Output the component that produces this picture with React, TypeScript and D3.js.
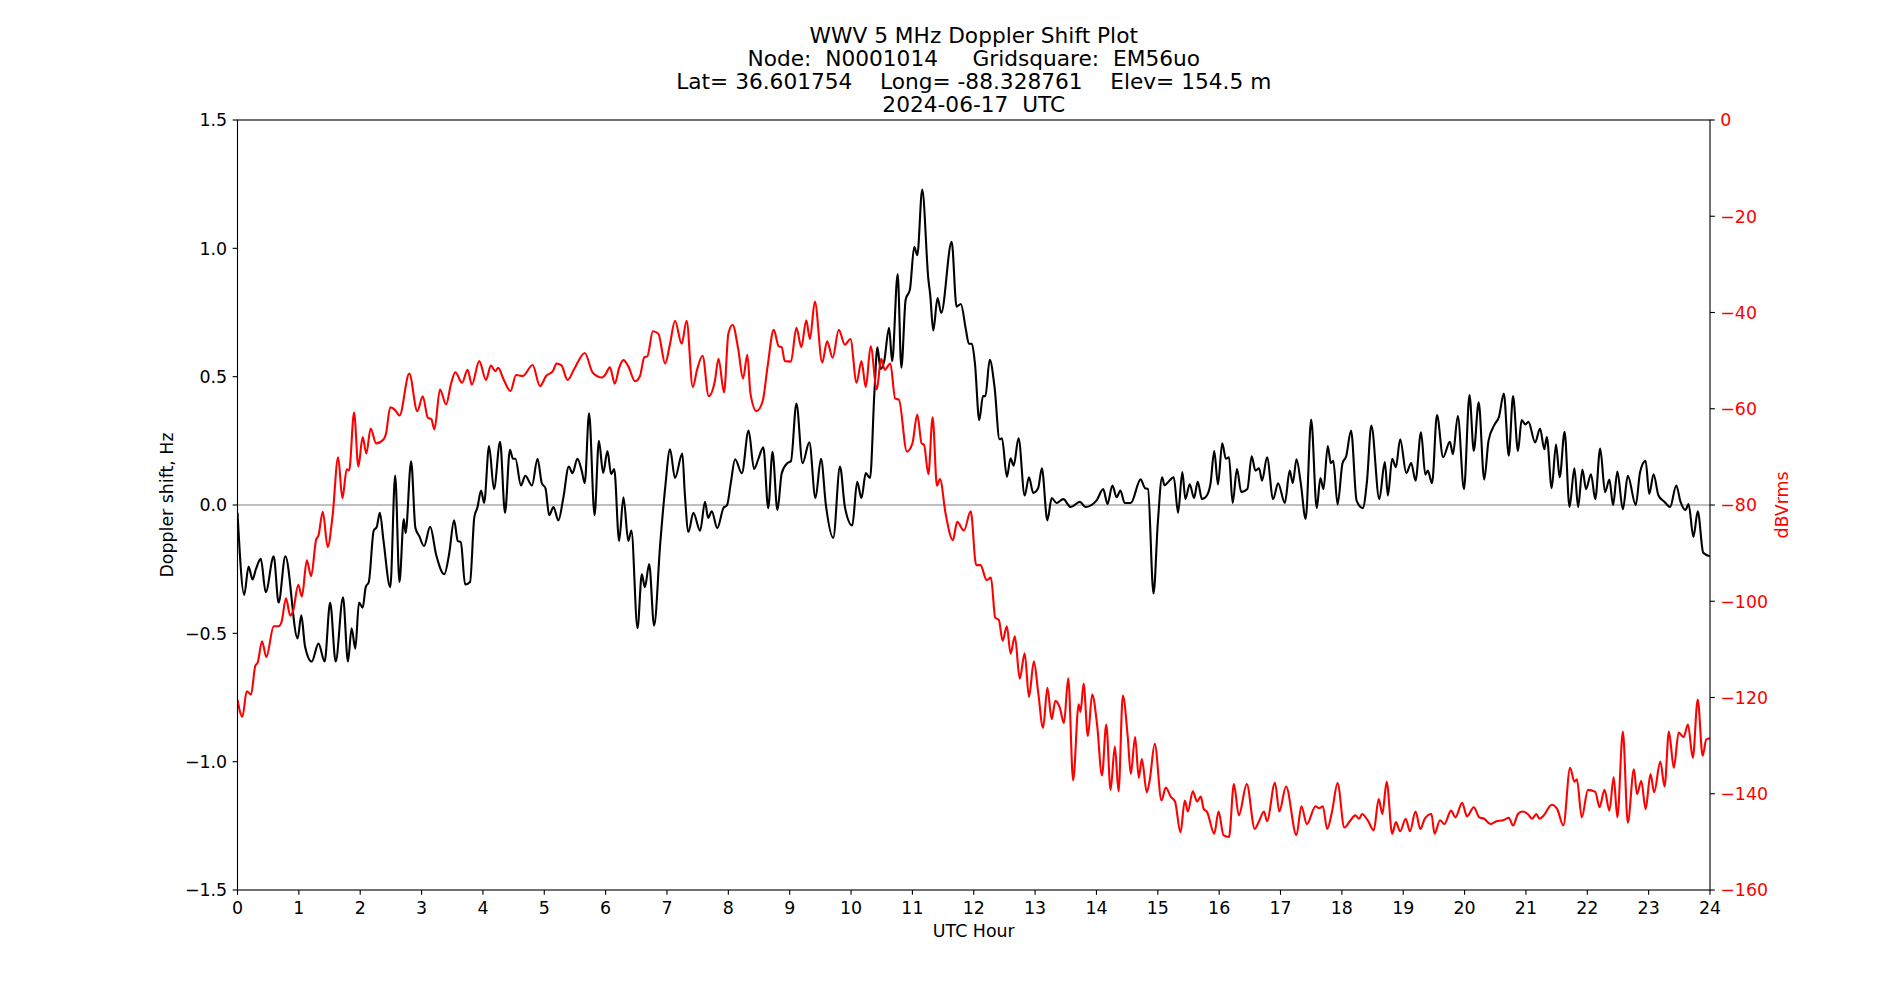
import React from 'react';
import * as d3 from 'd3';

// Doppler shift (black, left axis): hour, Hz
const dopplerHours = [
  0.00, 0.11, 0.18, 0.245, 0.30, 0.38, 0.46, 0.59, 0.67, 0.78, 0.98, 1.04, 1.10, 1.21, 1.32, 1.42, 1.51, 1.60, 1.72, 1.80,
  1.86, 1.92, 1.98, 2.04, 2.09, 2.14, 2.22, 2.27, 2.32, 2.38, 2.49, 2.57, 2.64, 2.71, 2.74, 2.83, 2.90, 2.96, 3.04, 3.14,
  3.24, 3.37, 3.45, 3.53, 3.59, 3.64, 3.71, 3.79, 3.86, 3.91, 3.97, 4.02, 4.10, 4.18, 4.28, 4.36, 4.44, 4.49, 4.53, 4.62,
  4.69, 4.80, 4.89, 4.96, 5.02, 5.08, 5.15, 5.23, 5.31, 5.40, 5.46, 5.54, 5.61, 5.66, 5.73, 5.82, 5.89, 5.96, 6.03, 6.09,
  6.14, 6.22, 6.29, 6.37, 6.42, 6.52, 6.59, 6.64, 6.71, 6.79, 6.89, 6.97, 7.05, 7.13, 7.25, 7.29, 7.35, 7.43, 7.54, 7.62,
  7.67, 7.73, 7.82, 7.92, 7.98, 8.04, 8.11, 8.22, 8.33, 8.42, 8.49, 8.57, 8.65, 8.72, 8.80, 8.87, 8.96, 9.02, 9.11, 9.21,
  9.32, 9.42, 9.51, 9.59, 9.71, 9.82, 9.90, 10.02, 10.10, 10.17, 10.24, 10.31, 10.38, 10.43, 10.48, 10.54, 10.62, 10.67, 10.76, 10.82,
  10.89, 10.96, 11.03, 11.08, 11.16, 11.26, 11.29, 11.34, 11.41, 11.47, 11.64, 11.72, 11.79, 11.87, 11.92, 11.97, 12.02, 12.09, 12.15, 12.19,
  12.26, 12.34, 12.42, 12.46, 12.54, 12.60, 12.65, 12.73, 12.83, 12.90, 12.97, 13.05, 13.11, 13.20, 13.27, 13.35, 13.46, 13.58, 13.73, 13.82,
  14.00, 14.11, 14.18, 14.26, 14.33, 14.39, 14.46, 14.56, 14.72, 14.79, 14.84, 14.93, 15.00, 15.07, 15.11, 15.17, 15.26, 15.33, 15.40, 15.45,
  15.52, 15.59, 15.65, 15.72, 15.80, 15.86, 15.92, 15.98, 16.05, 16.11, 16.16, 16.22, 16.29, 16.36, 16.46, 16.53, 16.59, 16.65, 16.70, 16.78,
  16.88, 16.96, 17.07, 17.15, 17.20, 17.26, 17.33, 17.41, 17.50, 17.59, 17.65, 17.70, 17.77, 17.82, 17.86, 17.93, 18.01, 18.07, 18.15, 18.24,
  18.34, 18.41, 18.48, 18.61, 18.70, 18.75, 18.82, 18.88, 18.95, 19.05, 19.13, 19.20, 19.29, 19.36, 19.40, 19.47, 19.55, 19.65, 19.76, 19.81,
  19.89, 19.99, 20.08, 20.15, 20.23, 20.32, 20.39, 20.49, 20.56, 20.64, 20.72, 20.79, 20.87, 20.93, 20.99, 21.04, 21.15, 21.23, 21.30, 21.34,
  21.42, 21.49, 21.55, 21.63, 21.71, 21.79, 21.85, 21.92, 21.98, 22.06, 22.13, 22.21, 22.29, 22.36, 22.42, 22.49, 22.58, 22.66, 22.79, 22.86,
  22.95, 23.01, 23.08, 23.16, 23.26, 23.35, 23.45, 23.52, 23.60, 23.65, 23.73, 23.80, 23.89, 24.00,
];
const dopplerShift = [
  -0.03, -0.35, -0.24, -0.29, -0.25, -0.21, -0.34, -0.20, -0.38, -0.20, -0.52, -0.43, -0.55, -0.61, -0.54, -0.61, -0.38, -0.61, -0.36, -0.61,
  -0.48, -0.56, -0.38, -0.40, -0.32, -0.30, -0.10, -0.085, -0.03, -0.14, -0.32, 0.115, -0.30, -0.055, -0.11, 0.17, -0.09, -0.12, -0.16, -0.085,
  -0.196, -0.27, -0.19, -0.06, -0.14, -0.145, -0.31, -0.30, -0.047, -0.01, 0.056, 0.008, 0.23, 0.062, 0.246, -0.03, 0.215, 0.18, 0.18, 0.076,
  0.114, 0.076, 0.18, 0.085, 0.065, -0.04, -0.008, -0.06, 0.027, 0.15, 0.124, 0.18, 0.134, 0.085, 0.357, -0.04, 0.25, 0.125, 0.21, 0.12,
  0.14, -0.14, 0.03, -0.14, -0.10, -0.48, -0.27, -0.32, -0.23, -0.47, -0.15, 0.066, 0.217, 0.105, 0.20, 0.047, -0.105, -0.03, -0.10, 0.012,
  -0.05, -0.025, -0.09, -0.012, 0.0, 0.085, 0.178, 0.124, 0.29, 0.14, 0.18, 0.225, -0.012, 0.207, -0.02, 0.124, 0.163, 0.17, 0.395, 0.163,
  0.244, 0.027, 0.18, 0.0, -0.128, 0.15, -0.008, -0.08, 0.09, 0.027, 0.124, 0.105, 0.434, 0.614, 0.53, 0.56, 0.69, 0.56, 0.90, 0.535,
  0.80, 0.84, 1.006, 0.973, 1.229, 0.88, 0.82, 0.68, 0.806, 0.748, 1.025, 0.773, 0.783, 0.686, 0.628, 0.628, 0.55, 0.33, 0.424, 0.424,
  0.566, 0.457, 0.256, 0.26, 0.11, 0.182, 0.153, 0.26, 0.037, 0.108, 0.047, 0.066, 0.143, -0.06, 0.027, 0.008, 0.023, -0.008, 0.012, -0.008,
  0.017, 0.062, 0.004, 0.076, 0.03, 0.056, 0.008, 0.008, 0.10, 0.066, 0.062, -0.345, -0.07, 0.108, 0.076, 0.09, 0.108, -0.03, 0.128, 0.023,
  0.081, 0.027, 0.09, 0.023, 0.037, 0.085, 0.21, 0.08, 0.24, 0.18, 0.186, 0.008, 0.14, 0.05, 0.062, 0.19, 0.134, 0.143, 0.095, 0.186,
  0.023, 0.085, 0.008, 0.134, 0.085, 0.178, 0.085, -0.054, 0.333, -0.012, 0.105, 0.062, 0.23, 0.163, 0.172, 0.002, 0.163, 0.19, 0.29, 0.017,
  -0.012, 0.095, 0.31, 0.023, 0.167, 0.037, 0.18, 0.147, 0.256, 0.124, 0.163, 0.095, 0.283, 0.118, 0.134, 0.085, 0.35, 0.186, 0.246, 0.198,
  0.347, 0.062, 0.428, 0.211, 0.40, 0.099, 0.25, 0.314, 0.343, 0.434, 0.192, 0.424, 0.211, 0.331, 0.314, 0.324, 0.244, 0.298, 0.217, 0.265,
  0.066, 0.236, 0.108, 0.285, -0.008, 0.143, -0.008, 0.138, 0.062, 0.12, 0.023, 0.22, 0.05, 0.099, 0.0, 0.13, -0.017, 0.114, 0.0, 0.128,
  0.172, 0.043, 0.12, 0.037, 0.012, -0.008, 0.076, 0.012, -0.02, 0.004, -0.124, -0.025, -0.186, -0.20,
];

// Received level (red, right axis): hour, dBVrms
const powerHours = [
  0.00, 0.08, 0.15, 0.22, 0.29, 0.33, 0.40, 0.47, 0.59, 0.67, 0.72, 0.79, 0.86, 0.91, 0.99, 1.05, 1.13, 1.20, 1.28, 1.32,
  1.39, 1.47, 1.55, 1.64, 1.71, 1.78, 1.82, 1.90, 1.97, 2.04, 2.10, 2.17, 2.26, 2.38, 2.42, 2.49, 2.57, 2.64, 2.80, 2.93,
  3.02, 3.10, 3.16, 3.21, 3.30, 3.40, 3.48, 3.55, 3.66, 3.75, 3.82, 3.94, 4.05, 4.13, 4.20, 4.25, 4.33, 4.45, 4.54, 4.65,
  4.81, 4.93, 5.03, 5.14, 5.20, 5.28, 5.38, 5.49, 5.66, 5.79, 5.94, 5.99, 6.07, 6.15, 6.22, 6.29, 6.37, 6.48, 6.56, 6.63,
  6.68, 6.77, 6.86, 6.97, 7.05, 7.13, 7.24, 7.32, 7.42, 7.49, 7.58, 7.68, 7.78, 7.84, 7.93, 8.00, 8.07, 8.16, 8.24, 8.31,
  8.36, 8.46, 8.56, 8.64, 8.74, 8.82, 8.87, 8.92, 9.02, 9.11, 9.19, 9.27, 9.33, 9.41, 9.53, 9.61, 9.70, 9.80, 9.90, 9.99,
  10.09, 10.17, 10.24, 10.32, 10.42, 10.49, 10.55, 10.64, 10.72, 10.78, 10.91, 11.00, 11.08, 11.15, 11.19, 11.26, 11.33, 11.40, 11.45, 11.54,
  11.66, 11.73, 11.84, 11.95, 12.04, 12.11, 12.21, 12.28, 12.35, 12.41, 12.47, 12.54, 12.60, 12.67, 12.75, 12.83, 12.90, 12.98, 13.05, 13.13,
  13.20, 13.27, 13.33, 13.40, 13.47, 13.54, 13.62, 13.71, 13.74, 13.79, 13.86, 13.93, 14.01, 14.09, 14.16, 14.23, 14.30, 14.36, 14.43, 14.51,
  14.56, 14.63, 14.69, 14.74, 14.82, 14.87, 14.95, 15.06, 15.13, 15.21, 15.28, 15.37, 15.44, 15.49, 15.57, 15.64, 15.70, 15.75, 15.80, 15.92,
  15.99, 16.07, 16.16, 16.24, 16.32, 16.45, 16.58, 16.65, 16.73, 16.78, 16.91, 16.98, 17.09, 17.26, 17.34, 17.43, 17.57, 17.63, 17.69, 17.76,
  17.84, 17.93, 18.04, 18.13, 18.22, 18.28, 18.33, 18.42, 18.52, 18.60, 18.66, 18.73, 18.82, 18.88, 18.95, 19.04, 19.11, 19.20, 19.28, 19.35,
  19.46, 19.51, 19.60, 19.67, 19.78, 19.85, 19.96, 20.04, 20.15, 20.24, 20.32, 20.42, 20.52, 20.63, 20.72, 20.79, 20.87, 20.94, 21.03, 21.10,
  21.17, 21.22, 21.29, 21.42, 21.51, 21.61, 21.72, 21.79, 21.83, 21.91, 22.01, 22.13, 22.20, 22.28, 22.36, 22.43, 22.49, 22.58, 22.66, 22.76,
  22.81, 22.88, 22.95, 23.03, 23.09, 23.19, 23.26, 23.33, 23.41, 23.49, 23.57, 23.64, 23.72, 23.80, 23.88, 23.94, 24.00,
];
const powerDb = [
  -120.5, -124.0, -118.7, -119.4, -113.4, -112.7, -108.3, -111.6, -105.2, -105.2, -104.2, -99.4, -103.0, -101.8, -96.6, -99.0, -91.5, -94.8, -87.3, -86.3,
  -81.4, -88.7, -82.2, -70.1, -78.6, -72.6, -72.8, -60.8, -72.0, -65.9, -69.3, -64.1, -67.2, -66.4, -65.2, -59.7, -60.3, -61.4, -52.7, -60.5,
  -57.4, -61.8, -62.2, -64.3, -56.0, -59.1, -54.8, -52.4, -54.6, -51.9, -55.0, -50.1, -54.0, -51.0, -52.2, -51.5, -53.7, -56.3, -53.0, -53.2,
  -50.9, -55.3, -53.2, -52.2, -50.6, -51.0, -54.0, -51.7, -48.4, -52.5, -53.5, -53.0, -51.4, -54.8, -51.5, -49.9, -51.2, -54.3, -53.2, -49.3,
  -49.1, -43.9, -44.4, -50.6, -46.5, -41.7, -46.5, -41.7, -55.5, -51.9, -49.0, -57.4, -54.3, -49.6, -56.6, -44.4, -42.6, -47.5, -53.7, -48.8,
  -56.8, -60.5, -58.4, -51.2, -43.6, -47.0, -47.2, -50.1, -50.2, -43.2, -47.2, -41.6, -45.5, -37.7, -50.4, -46.0, -49.4, -43.6, -46.7, -45.5,
  -54.6, -50.1, -55.5, -47.0, -56.0, -49.6, -51.9, -50.6, -57.9, -58.1, -68.9, -67.2, -61.2, -67.2, -67.5, -73.6, -61.8, -76.0, -74.6, -81.7,
  -87.3, -83.5, -85.3, -81.3, -92.5, -92.5, -95.6, -95.1, -103.4, -103.9, -108.2, -105.2, -110.9, -107.3, -116.1, -110.8, -119.9, -112.5, -118.9, -126.3,
  -118.0, -124.5, -120.7, -122.0, -125.3, -116.0, -137.2, -121.4, -123.0, -117.1, -128.0, -119.4, -125.6, -136.2, -125.6, -139.2, -130.2, -139.5, -119.6, -128.2,
  -135.9, -128.2, -136.7, -132.8, -139.7, -137.0, -129.6, -141.4, -138.7, -140.6, -141.6, -148.0, -141.4, -143.7, -139.5, -141.6, -140.6, -143.2, -143.7, -148.3,
  -143.7, -148.6, -149.0, -138.0, -144.5, -138.0, -147.3, -145.7, -143.7, -145.7, -137.7, -143.7, -138.5, -148.6, -142.6, -146.3, -142.6, -143.0, -142.6, -147.3,
  -143.7, -137.8, -147.0, -145.7, -144.5, -145.2, -144.2, -145.5, -147.6, -141.1, -144.2, -137.5, -148.3, -145.9, -147.8, -145.2, -147.8, -143.7, -147.3, -145.2,
  -144.2, -148.3, -145.5, -146.3, -143.5, -144.9, -141.9, -144.7, -142.8, -144.9, -145.2, -146.3, -145.7, -145.5, -145.0, -146.6, -144.2, -143.7, -144.2, -145.2,
  -144.2, -145.2, -144.5, -142.3, -143.2, -146.6, -134.6, -137.5, -137.0, -144.9, -139.2, -139.6, -142.8, -139.2, -143.5, -136.6, -144.9, -127.1, -146.0, -134.9,
  -140.1, -137.3, -143.2, -135.9, -139.7, -133.3, -138.5, -127.1, -134.6, -127.3, -128.2, -125.6, -132.5, -120.4, -132.1, -128.7, -128.5,
];

const hourTicks = [0, 1, 2, 3, 4, 5, 6, 7, 8, 9, 10, 11, 12, 13, 14, 15, 16, 17, 18, 19, 20, 21, 22, 23, 24];
const shiftTicks = [-1.5, -1.0, -0.5, 0.0, 0.5, 1.0, 1.5];
const dbTicks = [0, -20, -40, -60, -80, -100, -120, -140, -160];

const titleLines = [
  'WWV 5 MHz Doppler Shift Plot',
  'Node:  N0001014     Gridsquare:  EM56uo',
  'Lat= 36.601754    Long= -88.328761    Elev= 154.5 m',
  '2024-06-17  UTC',
];

const minus = (s: string) => s.replace('-', '\u2212');

export default function App() {
  const width = 1900;
  const height = 1000;
  const left = 237.5, right = 1710, top = 120, bottom = 890;
  const tickLen = 4.86;
  const font = 'DejaVu Sans, sans-serif';
  const fs = 17.4;

  const x = d3.scaleLinear().domain([0, 24]).range([left, right]);
  const yL = d3.scaleLinear().domain([-1.5, 1.5]).range([bottom, top]);
  const yR = d3.scaleLinear().domain([-160, 0]).range([bottom, top]);

  const dopplerLine = d3.line<number>()
    .x((d, i) => x(dopplerHours[i]))
    .y(d => yL(d))
    .curve(d3.curveMonotoneX);

  const powerLine = d3.line<number>()
    .x((d, i) => x(powerHours[i]))
    .y(d => yR(d))
    .curve(d3.curveMonotoneX);

  return (
    <svg width={width} height={height} style={{ position: 'absolute', left: 0, top: 0, background: '#fff' }}
      fontFamily={font}>
      <defs>
        <clipPath id="plotArea">
          <rect x={left} y={top} width={right - left} height={bottom - top} />
        </clipPath>
      </defs>
      <rect x={0} y={0} width={width} height={height} fill="#fff" />

      {/* title */}
      {titleLines.map((t, i) => (
        <text key={i} x={(left + right) / 2} y={42.5 + i * 23} textAnchor="middle" fontSize={21.7}
          style={{ whiteSpace: 'pre' }}>{t}</text>
      ))}

      {/* zero reference */}
      <line x1={left} x2={right} y1={yL(0)} y2={yL(0)} stroke="#808080" strokeWidth={1.2} />

      <g clipPath="url(#plotArea)">
        <path d={dopplerLine(dopplerShift) || ''} fill="none" stroke="#000" strokeWidth={2.1} strokeLinejoin="round" />
        <path d={powerLine(powerDb) || ''} fill="none" stroke="#ff0000" strokeWidth={2.1} strokeLinejoin="round" />
      </g>

      {/* frame */}
      <rect x={left} y={top} width={right - left} height={bottom - top} fill="none" stroke="#000" strokeWidth={1.11} />

      {/* x axis */}
      {hourTicks.map(h => (
        <g key={h}>
          <line x1={x(h)} x2={x(h)} y1={bottom} y2={bottom + tickLen} stroke="#000" strokeWidth={1.11} />
          <text x={x(h)} y={914} textAnchor="middle" fontSize={fs}>{h}</text>
        </g>
      ))}
      <text x={(left + right) / 2} y={937} textAnchor="middle" fontSize={fs}>UTC Hour</text>

      {/* left axis */}
      {shiftTicks.map(v => (
        <g key={v}>
          <line x1={left - tickLen} x2={left} y1={yL(v)} y2={yL(v)} stroke="#000" strokeWidth={1.11} />
          <text x={left - 10.3} y={yL(v) + 6.3} textAnchor="end" fontSize={fs}>{minus(v.toFixed(1))}</text>
        </g>
      ))}
      <text transform={`translate(173.3,${(top + bottom) / 2}) rotate(-90)`} textAnchor="middle" fontSize={fs}>
        Doppler shift, Hz
      </text>

      {/* right axis */}
      {dbTicks.map(v => (
        <g key={v}>
          <line x1={right} x2={right + tickLen} y1={yR(v)} y2={yR(v)} stroke="#000" strokeWidth={1.11} />
          <text x={right + 10.3} y={yR(v) + 6.3} textAnchor="start" fontSize={fs} fill="#ff0000">{minus(String(v))}</text>
        </g>
      ))}
      <text transform={`translate(1788,${(top + bottom) / 2}) rotate(-90)`} textAnchor="middle" fontSize={fs}
        fill="#ff0000">dBVrms</text>
    </svg>
  );
}
